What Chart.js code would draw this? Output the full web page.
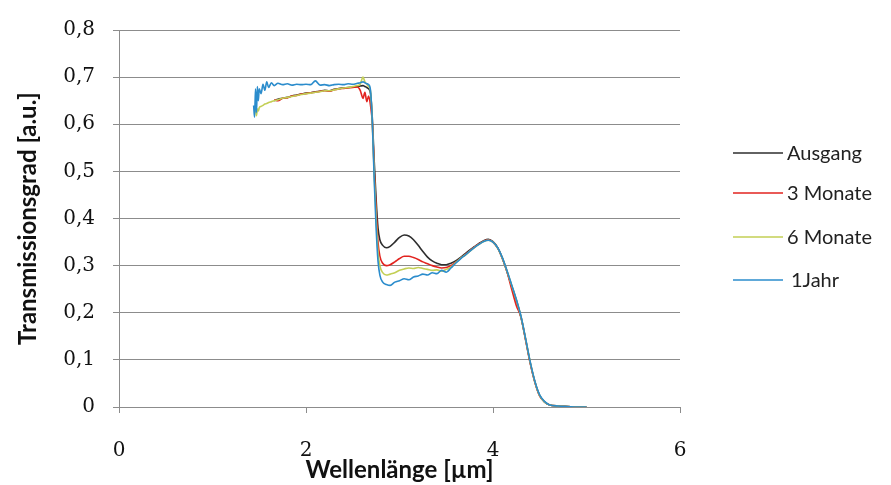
<!DOCTYPE html>
<html>
<head>
<meta charset="utf-8">
<script src="https://cdn.jsdelivr.net/npm/chart.js@4"></script>
<style>
  html, body { margin: 0; padding: 0; background: #fff; }
  #wrap { width: 891px; height: 485px; }
</style>
</head>
<body>
<div id="wrap"><canvas id="lineChart" width="891" height="485"></canvas></div>
<script>
// wavelength in µm
var wavelengths = [1.44,1.45,1.46,1.47,1.48,1.49,1.50,1.52,1.54,1.56,
    1.58,1.60,1.63,1.66,1.70,1.75,1.80,1.85,1.90,1.95,
    2.00,2.05,2.10,2.15,2.20,2.25,2.30,2.35,2.40,2.45,
    2.50,2.55,2.58,2.61,2.63,2.65,2.67,2.69,2.71,2.73,
    2.75,2.77,2.79,2.82,2.86,2.90,2.95,3.00,3.05,3.10,
    3.15,3.20,3.25,3.30,3.35,3.40,3.45,3.50,3.55,3.60,
    3.65,3.70,3.75,3.80,3.85,3.90,3.95,4.00,4.05,4.10,
    4.15,4.20,4.25,4.30,4.35,4.40,4.45,4.50,4.55,4.60,
    4.70,4.80,4.90,5.00];

var ausgang = [null,null,null,null,null,null,null,null,null,null,
    null,null,null,0.650,0.653,0.655,0.657,0.660,0.662,0.664,
    0.666,0.667,0.669,0.670,0.672,0.671,0.674,0.676,0.677,0.678,
    0.679,0.680,0.681,0.682,0.680,0.678,0.675,0.665,0.610,0.520,
    0.440,0.380,0.355,0.343,0.338,0.341,0.350,0.360,0.365,0.363,
    0.355,0.343,0.330,0.318,0.310,0.305,0.302,0.302,0.305,0.310,
    0.317,0.325,0.333,0.340,0.347,0.353,0.356,0.351,0.338,0.316,
    0.287,0.257,0.226,0.190,0.142,0.092,0.052,0.024,0.011,0.005,
    0.002,0.001,0,0];

var monate3 = [null,null,null,null,null,null,null,null,null,null,
    null,null,null,0.652,0.650,0.655,0.656,0.660,0.661,0.664,
    0.665,0.667,0.668,0.670,0.671,0.670,0.673,0.675,0.676,0.677,
    0.678,0.679,0.672,0.655,0.668,0.648,0.660,0.640,0.600,0.500,
    0.420,0.350,0.320,0.305,0.300,0.302,0.308,0.315,0.320,0.320,
    0.317,0.313,0.308,0.304,0.300,0.297,0.295,0.296,0.300,0.307,
    0.315,0.323,0.331,0.339,0.346,0.352,0.355,0.350,0.337,0.315,
    0.287,0.250,0.215,0.190,0.141,0.091,0.051,0.023,0.011,0.005,
    0.002,0.001,0,0];

var monate6 = [null,0.625,0.630,0.618,0.632,0.628,0.635,0.638,0.640,0.643,
    0.644,0.646,0.648,0.650,0.652,0.655,0.657,0.659,0.661,0.663,
    0.665,0.666,0.668,0.669,0.671,0.671,0.673,0.675,0.677,0.678,
    0.680,0.682,0.685,0.700,0.690,0.685,0.680,0.670,0.600,0.490,
    0.400,0.330,0.300,0.285,0.280,0.282,0.285,0.290,0.293,0.295,
    0.294,0.296,0.294,0.292,0.290,0.291,0.288,0.292,0.297,0.306,
    0.315,0.322,0.330,0.338,0.345,0.351,0.354,0.350,0.337,0.316,
    0.288,0.258,0.227,0.191,0.143,0.093,0.052,0.024,0.011,0.005,
    0.002,0.001,0,0];

var jahr1 = [0.640,0.615,0.675,0.625,0.680,0.650,0.675,0.665,0.685,0.672,
    0.690,0.678,0.688,0.682,0.687,0.684,0.686,0.683,0.685,0.684,
    0.685,0.684,0.692,0.683,0.684,0.682,0.684,0.685,0.684,0.686,
    0.685,0.687,0.688,0.690,0.688,0.686,0.684,0.672,0.600,0.480,
    0.380,0.310,0.280,0.265,0.260,0.258,0.265,0.268,0.272,0.270,
    0.276,0.278,0.282,0.280,0.285,0.283,0.290,0.286,0.295,0.305,
    0.314,0.322,0.330,0.338,0.345,0.351,0.354,0.350,0.338,0.317,
    0.289,0.259,0.228,0.192,0.144,0.094,0.053,0.025,0.012,0.005,
    0.002,0.001,0,0];

var seriesNames = ['Ausgang', '3 Monate', '6 Monate', '1Jahr'];
var seriesColors = ['#2e2e2e', '#e2231f', '#c3cf55', '#2b8ccc'];
var seriesValues = [ausgang, monate3, monate6, jahr1];

function toPoints(vals) {
    return wavelengths.map(function(x, i) { return { x: x, y: vals[i] }; });
}

// legend drawn by hand, like the Excel one on the right
var sideLegend = {
    id: 'sideLegend',
    afterDraw: function(chart) {
        var c = chart.ctx;
        var rows = [153, 193, 237, 280];
        c.save();
        c.font = '20px Lato';
        c.textBaseline = 'middle';
        chart.data.datasets.forEach(function(ds, i) {
            c.strokeStyle = ds.borderColor;
            c.lineWidth = 1.5;
            c.beginPath();
            c.moveTo(733, rows[i]);
            c.lineTo(783, rows[i]);
            c.stroke();
            c.fillStyle = '#222';
            c.fillText(ds.label, i == 3 ? 791 : 787, rows[i] + 1);
        });
        c.restore();
    }
};

var ctx = document.getElementById('lineChart').getContext('2d');
var lineChart = new Chart(ctx, {
    type: 'line',
    data: {
        datasets: seriesValues.map(function(vals, i) {
            return {
                label: seriesNames[i],
                data: toPoints(vals),
                borderColor: seriesColors[i],
                borderWidth: 1.6,
                pointRadius: 0,
                fill: false,
                order: 3 - i,
                cubicInterpolationMode: 'monotone'
            };
        })
    },
    options: {
        responsive: false,
        animation: false,
        layout: { padding: { left: 8, right: 211, top: 20, bottom: 0 } },
        plugins: {
            legend: { display: false },
            tooltip: { enabled: false }
        },
        scales: {
            x: {
                type: 'linear',
                min: 0,
                max: 6,
                afterFit: function(s) { s.height = 78; },
                ticks: {
                    stepSize: 2,
                    padding: 26,
                    color: '#111',
                    font: { family: '"DejaVu Serif"', size: 20 }
                },
                grid: { drawOnChartArea: false, tickLength: 6, color: '#8c8c8c' },
                border: { color: '#8c8c8c' },
                title: {
                    display: true,
                    text: 'Wellenlänge [µm]',
                    color: '#111',
                    font: { family: 'Lato', size: 24, weight: 'bold' },
                    padding: { top: 0, bottom: 0 }
                }
            },
            y: {
                min: 0,
                max: 0.8,
                afterFit: function(s) { s.width = 111; },
                ticks: {
                    stepSize: 0.1,
                    padding: 18,
                    color: '#111',
                    font: { family: '"DejaVu Serif"', size: 20 },
                    callback: function(v) { return v == 0 ? '0' : v.toFixed(1).replace('.', ','); }
                },
                grid: { tickLength: 6, color: '#8c8c8c' },
                border: { color: '#8c8c8c' },
                title: {
                    display: true,
                    text: 'Transmissionsgrad [a.u.]',
                    color: '#111',
                    font: { family: 'Lato', size: 24, weight: 'bold' },
                    padding: { top: 6, bottom: 0 }
                }
            }
        }
    },
    plugins: [sideLegend]
});
</script>
</body>
</html>
